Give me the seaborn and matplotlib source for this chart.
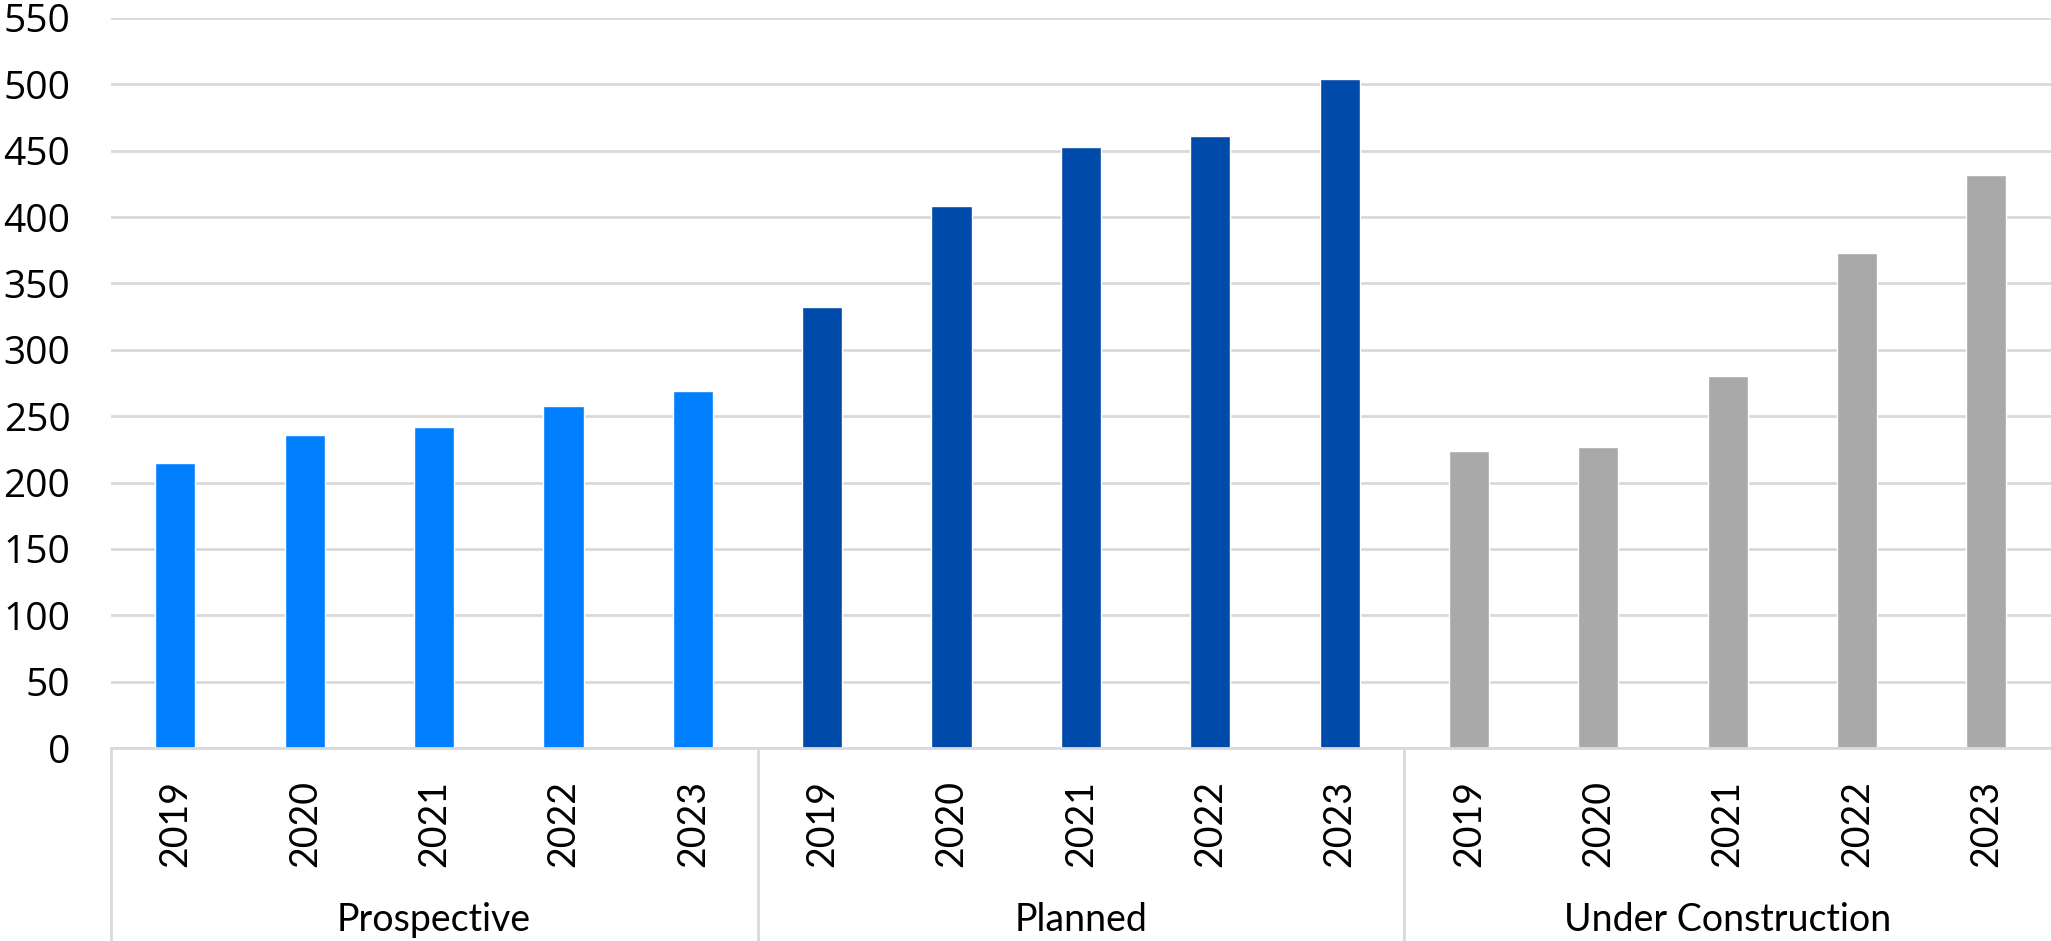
import numpy as np
import pandas as pd
import matplotlib
matplotlib.use("Agg")
import matplotlib.pyplot as plt
import seaborn as sns

groups = ["Prospective", "Planned", "Under Construction"]
years = ["2019", "2020", "2021", "2022", "2023"]
prospective = [215, 236, 242, 258, 269]
planned = [332, 408, 453, 461, 504]
under_construction = [224, 227, 280, 373, 432]
colors = {"Prospective": "#0080FF", "Planned": "#004AAA", "Under Construction": "#A9A9A9"}

rows = []
for g, vals in zip(groups, [prospective, planned, under_construction]):
    for y, v in zip(years, vals):
        rows.append({"group": g, "year": y, "key": f"{g} {y}", "value": v})
df = pd.DataFrame(rows)

sns.set_theme(style="white")
plt.rcParams["font.family"] = ["Lato", "DejaVu Sans"]

fig = plt.figure(figsize=(20.51, 9.41), dpi=100)
ax = fig.add_axes([0.054, 0.205, 0.946, 0.776])

sns.barplot(data=df, x="key", y="value", hue="group", palette=colors,
            dodge=False, width=0.31, ax=ax, legend=False, saturation=1)

ax.set_ylim(0, 550)
ax.set_yticks(np.arange(0, 551, 50))
ax.yaxis.grid(True, color="#D9D9D9", linewidth=2)
ax.set_axisbelow(True)
for s in ["top", "right", "left"]:
    ax.spines[s].set_visible(False)
ax.spines["bottom"].set_color("#D9D9D9")
ax.spines["bottom"].set_linewidth(2)
ax.set_xlabel("")
ax.set_ylabel("")
ax.tick_params(axis="y", length=0, pad=29, labelsize=28, labelcolor="black")
ax.tick_params(axis="x", length=0, pad=23, labelsize=27, labelcolor="black")
for lab in ax.get_yticklabels():
    lab.set_family(["Open Sans", "DejaVu Sans"])
ax.set_xticks(range(len(df)))
ax.set_xticklabels(df["year"], rotation=90, va="top")
ax.set_xlim(-0.5, len(df) - 0.5)

n = len(years)
trans = ax.get_xaxis_transform()
for i, g in enumerate(groups):
    left = i * n - 0.5
    ax.plot([left, left], [0, -0.3], transform=trans, color="#D9D9D9",
            linewidth=2, clip_on=False)
    ax.text(left + n / 2, -0.236, g, transform=trans, ha="center", va="center",
            fontsize=27, color="black")

fig.savefig("out.png", dpi=100)
